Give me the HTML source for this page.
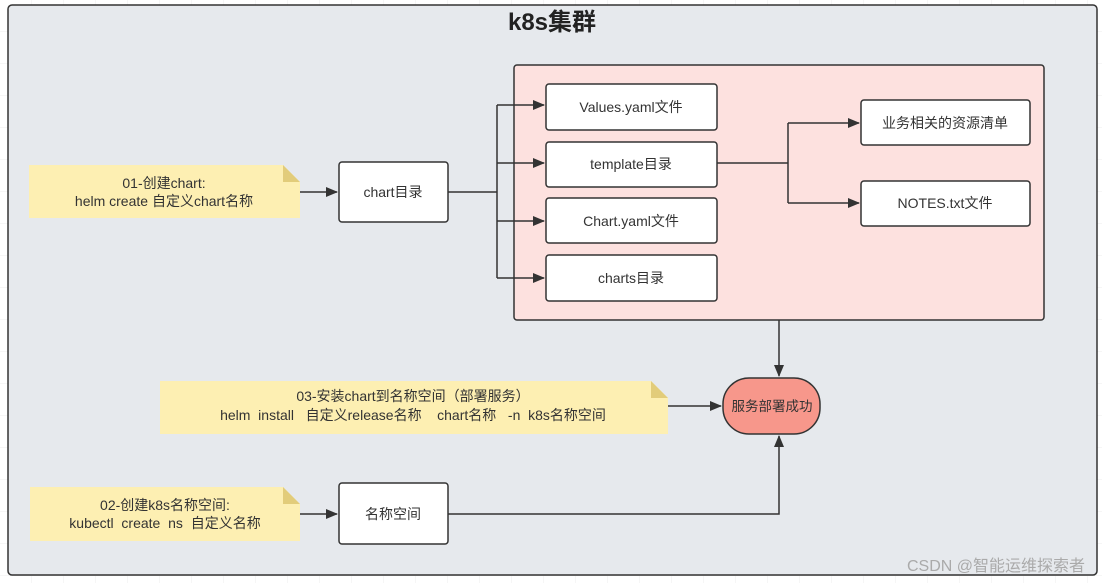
<!DOCTYPE html>
<html><head><meta charset="utf-8"><style>
html,body{margin:0;padding:0;background:#fff;}
svg{display:block;}
text{font-family:"Liberation Sans","Noto Sans CJK SC",sans-serif;fill:#333;}
</style></head><body>
<svg width="1102" height="583" viewBox="0 0 1102 583" xmlns="http://www.w3.org/2000/svg">
<defs>
<pattern id="g" width="32" height="32" patternUnits="userSpaceOnUse"><path d="M32 0V32M0 32H32" stroke="#ececec" stroke-width="1" fill="none"/></pattern>
<marker id="a" markerWidth="12" markerHeight="10" refX="11" refY="5" orient="auto" markerUnits="userSpaceOnUse"><path d="M0,0 L12,5 L0,10 Z" fill="#333"/></marker>
</defs>
<rect width="1102" height="583" fill="url(#g)"/>
<rect x="8" y="5" width="1089" height="570" rx="4" fill="#e6e9ed" stroke="#333" stroke-width="1.5"/>
<text x="552" y="30" text-anchor="middle" font-size="24" font-weight="bold" style="fill:#222">k8s集群</text>
<rect x="514" y="65" width="530" height="255" rx="3" fill="#fde1df" stroke="#333" stroke-width="1.5"/>

<g fill="none" stroke="#333" stroke-width="1.5">
<path d="M300 192H337" marker-end="url(#a)"/>
<path d="M448 192H497"/>
<path d="M497 105V278"/>
<path d="M497 105H544" marker-end="url(#a)"/>
<path d="M497 163H544" marker-end="url(#a)"/>
<path d="M497 221H544" marker-end="url(#a)"/>
<path d="M497 278H544" marker-end="url(#a)"/>
<path d="M717 163H788M788 123V203"/>
<path d="M788 123H859" marker-end="url(#a)"/>
<path d="M788 203H859" marker-end="url(#a)"/>
<path d="M779 320V376" marker-end="url(#a)"/>
<path d="M668 406H721" marker-end="url(#a)"/>
<path d="M300 514H337" marker-end="url(#a)"/>
<path d="M448 514H779V436" marker-end="url(#a)"/>
</g>

<g fill="#fff" stroke="#333" stroke-width="1.5">
<rect x="339" y="162" width="109" height="60" rx="3"/>
<rect x="546" y="84" width="171" height="46" rx="3"/>
<rect x="546" y="142" width="171" height="45" rx="3"/>
<rect x="546" y="198" width="171" height="45" rx="3"/>
<rect x="546" y="255" width="171" height="46" rx="3"/>
<rect x="861" y="100" width="169" height="45" rx="3"/>
<rect x="861" y="181" width="169" height="45" rx="3"/>
<rect x="339" y="483" width="109" height="61" rx="3"/>
</g>
<rect x="723" y="378" width="97" height="56" rx="26" fill="#f7978b" stroke="#333" stroke-width="1.5"/>

<path d="M29 165H283L300 182V218H29Z" fill="#fdefb2"/><path d="M283 165V182H300Z" fill="#e2cc7a"/>
<path d="M160 381H651L668 398V434H160Z" fill="#fdefb2"/><path d="M651 381V398H668Z" fill="#e2cc7a"/>
<path d="M30 487H283L300 504V541H30Z" fill="#fdefb2"/><path d="M283 487V504H300Z" fill="#e2cc7a"/>

<g font-size="14" text-anchor="middle">
<text x="164" y="188">01-创建chart:</text>
<text x="164" y="206">helm create 自定义chart名称</text>
<text x="393" y="197">chart目录</text>
<text x="631" y="112">Values.yaml文件</text>
<text x="631" y="169">template目录</text>
<text x="631" y="226">Chart.yaml文件</text>
<text x="631" y="283">charts目录</text>
<text x="945" y="128">业务相关的资源清单</text>
<text x="945" y="208">NOTES.txt文件</text>
<text x="413" y="401">03-安装chart到名称空间（部署服务）</text>
<text x="413" y="420" xml:space="preserve">helm  install   自定义release名称    chart名称   -n  k8s名称空间</text>
<text x="772" y="411" font-size="13.5">服务部署成功</text>
<text x="165" y="510">02-创建k8s名称空间:</text>
<text x="165" y="528" xml:space="preserve">kubectl  create  ns  自定义名称</text>
<text x="393" y="519">名称空间</text>
</g>
<text x="1085" y="571" text-anchor="end" font-size="16" style="fill:#aaa">CSDN @智能运维探索者</text>
</svg>
</body></html>
